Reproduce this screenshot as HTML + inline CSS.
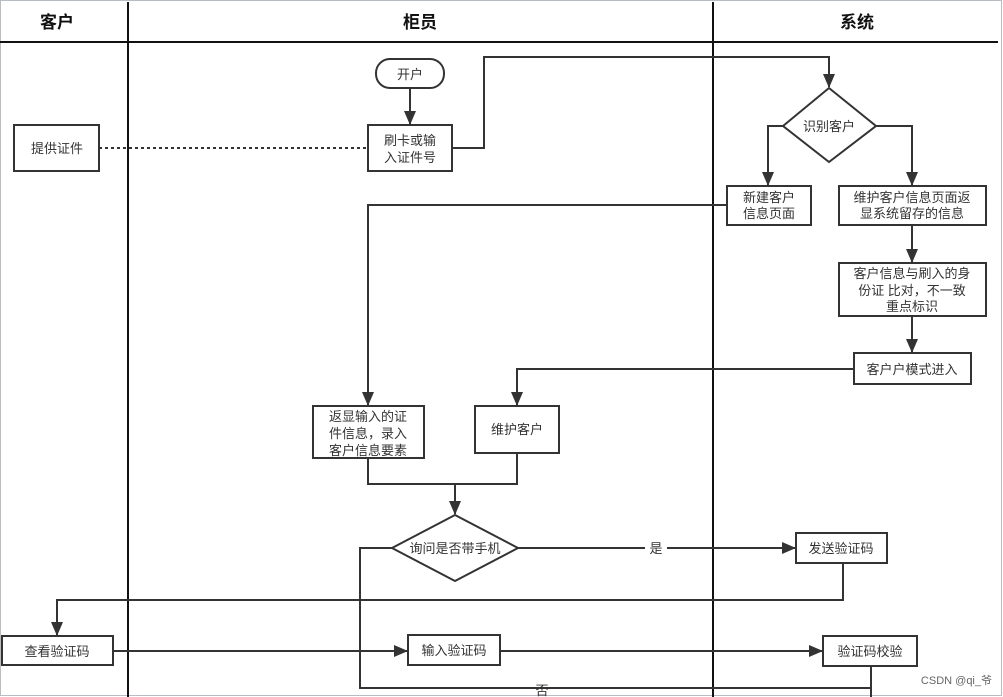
<!DOCTYPE html>
<html><head><meta charset="utf-8"><style>
body{margin:0;background:#fff;}
svg{display:block;font-family:"Liberation Sans","Noto Sans CJK SC",sans-serif;}
</style></head><body>
<svg width="1003" height="697" viewBox="0 0 1003 697" xmlns="http://www.w3.org/2000/svg">
<defs><marker id="a" markerWidth="14" markerHeight="12" refX="13" refY="6" orient="auto" markerUnits="userSpaceOnUse"><path d="M0,0 L14,6 L0,12 z" fill="#333"/></marker></defs>
<rect x="0.5" y="0.5" width="1001" height="695" fill="#fff" stroke="#b8bcc4"/>
<line x1="0" y1="42" x2="998" y2="42" stroke="#111" stroke-width="2"/>
<line x1="128" y1="2" x2="128" y2="697" stroke="#111" stroke-width="2"/>
<line x1="713" y1="2" x2="713" y2="697" stroke="#111" stroke-width="2"/>
<g font-size="17" font-weight="bold" text-anchor="middle" fill="#111">
<text x="57" y="28">客户</text><text x="420" y="28">柜员</text><text x="857" y="28">系统</text></g>
<g fill="none" stroke="#333" stroke-width="2">
<rect x="376" y="59" width="68" height="29" rx="14" fill="#fff"/>
<rect x="368" y="125" width="84" height="46" fill="#fff"/>
<rect x="14" y="125" width="85" height="46" fill="#fff"/>
<path d="M783,126 L829,88 L876,126 L829,162 Z" fill="#fff"/>
<rect x="727" y="186" width="84" height="39" fill="#fff"/>
<rect x="839" y="186" width="147" height="39" fill="#fff"/>
<rect x="839" y="263" width="147" height="53" fill="#fff"/>
<rect x="854" y="353" width="117" height="31" fill="#fff"/>
<rect x="313" y="406" width="111" height="52" fill="#fff"/>
<rect x="475" y="406" width="84" height="47" fill="#fff"/>
<path d="M392,548 L455,515 L518,548 L455,581 Z" fill="#fff"/>
<rect x="796" y="533" width="91" height="30" fill="#fff"/>
<rect x="2" y="636" width="111" height="29" fill="#fff"/>
<rect x="408" y="635" width="92" height="30" fill="#fff"/>
<rect x="823" y="636" width="94" height="30" fill="#fff"/>
<line x1="99" y1="148" x2="368" y2="148" stroke-dasharray="3,3"/>
<path d="M410,88 V124" marker-end="url(#a)"/>
<path d="M452,148 H484 V57 H829 V87" marker-end="url(#a)"/>
<path d="M783,126 H768 V185" marker-end="url(#a)"/>
<path d="M876,126 H912 V185" marker-end="url(#a)"/>
<path d="M912,225 V262" marker-end="url(#a)"/>
<path d="M912,316 V352" marker-end="url(#a)"/>
<path d="M727,205 H368 V405" marker-end="url(#a)"/>
<path d="M854,369 H517 V405" marker-end="url(#a)"/>
<path d="M368,458 V484 H455"/>
<path d="M517,453 V484 H455 V514" marker-end="url(#a)"/>
<path d="M518,548 H795" marker-end="url(#a)"/>
<path d="M843,563 V600 H57 V635" marker-end="url(#a)"/>
<path d="M113,651 H407" marker-end="url(#a)"/>
<path d="M500,651 H822" marker-end="url(#a)"/>
<path d="M392,548 H360 V688 H871"/>
<path d="M871,666 V697"/>
</g>
<rect x="645" y="541" width="22" height="15" fill="#fff"/>
<g font-size="13" fill="#333" text-anchor="middle">
<text x="410" y="79">开户</text>
<text x="410" y="145">刷卡或输</text><text x="410" y="162">入证件号</text>
<text x="57" y="153">提供证件</text>
<text x="829" y="131">识别客户</text>
<text x="769" y="202">新建客户</text><text x="769" y="218">信息页面</text>
<text x="912" y="202">维护客户信息页面返</text><text x="912" y="218">显系统留存的信息</text>
<text x="912" y="278">客户信息与刷入的身</text><text x="912" y="295">份证 比对，不一致</text><text x="912" y="311">重点标识</text>
<text x="912" y="374">客户户模式进入</text>
<text x="368" y="421">返显输入的证</text><text x="368" y="438">件信息，录入</text><text x="368" y="455">客户信息要素</text>
<text x="517" y="434">维护客户</text>
<text x="455" y="553">询问是否带手机</text>
<text x="656" y="553">是</text>
<text x="841" y="553">发送验证码</text>
<text x="57" y="656">查看验证码</text>
<text x="454" y="655">输入验证码</text>
<text x="870" y="656">验证码校验</text>
<text x="542" y="695">否</text>
</g>
<text x="992" y="684" font-size="11" fill="#666" text-anchor="end">CSDN @qi_爷</text>
</svg>
</body></html>
